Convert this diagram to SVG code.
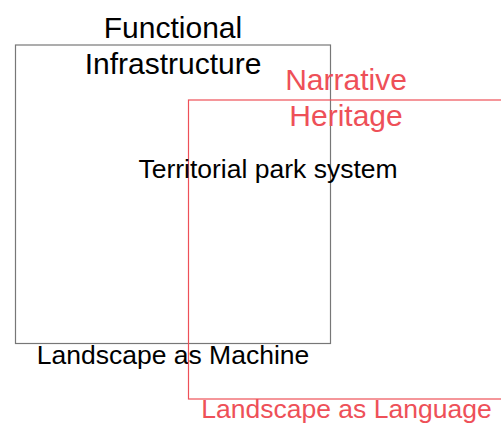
<svg xmlns="http://www.w3.org/2000/svg" width="501" height="428" viewBox="0 0 501 428">
<style>
  text { font-family: "Liberation Sans", Arial, sans-serif; text-anchor: middle; }
  .title { font-size: 30px; }
  .label { font-size: 26.5px; }
  .blk { fill: #000; }
  .red { fill: #ee5058; }
  .boxg { fill: none; stroke: #777777; stroke-width: 1.2; }
  .boxr { fill: none; stroke: #ee5058; stroke-width: 1.2; }
</style>
<rect width="501" height="428" fill="#ffffff"/>
<g id="machine">
  <rect class="boxg" x="15.5" y="45" width="315" height="298.5"/>
  <text class="title blk" x="173" y="38">Functional</text>
  <text class="title blk" x="173" y="73.5">Infrastructure</text>
  <text class="label blk" x="173" y="363.5">Landscape as Machine</text>
</g>
<g id="language">
  <rect class="boxr" x="188.5" y="100" width="315" height="299"/>
  <text class="title red" x="346" y="90">Narrative</text>
  <text class="title red" x="346" y="126">Heritage</text>
  <text class="label red" x="346.5" y="418">Landscape as Language</text>
</g>
<g id="overlap">
  <text class="label blk" x="268" y="178">Territorial park system</text>
</g>
<g id="connectors"></g>
</svg>
